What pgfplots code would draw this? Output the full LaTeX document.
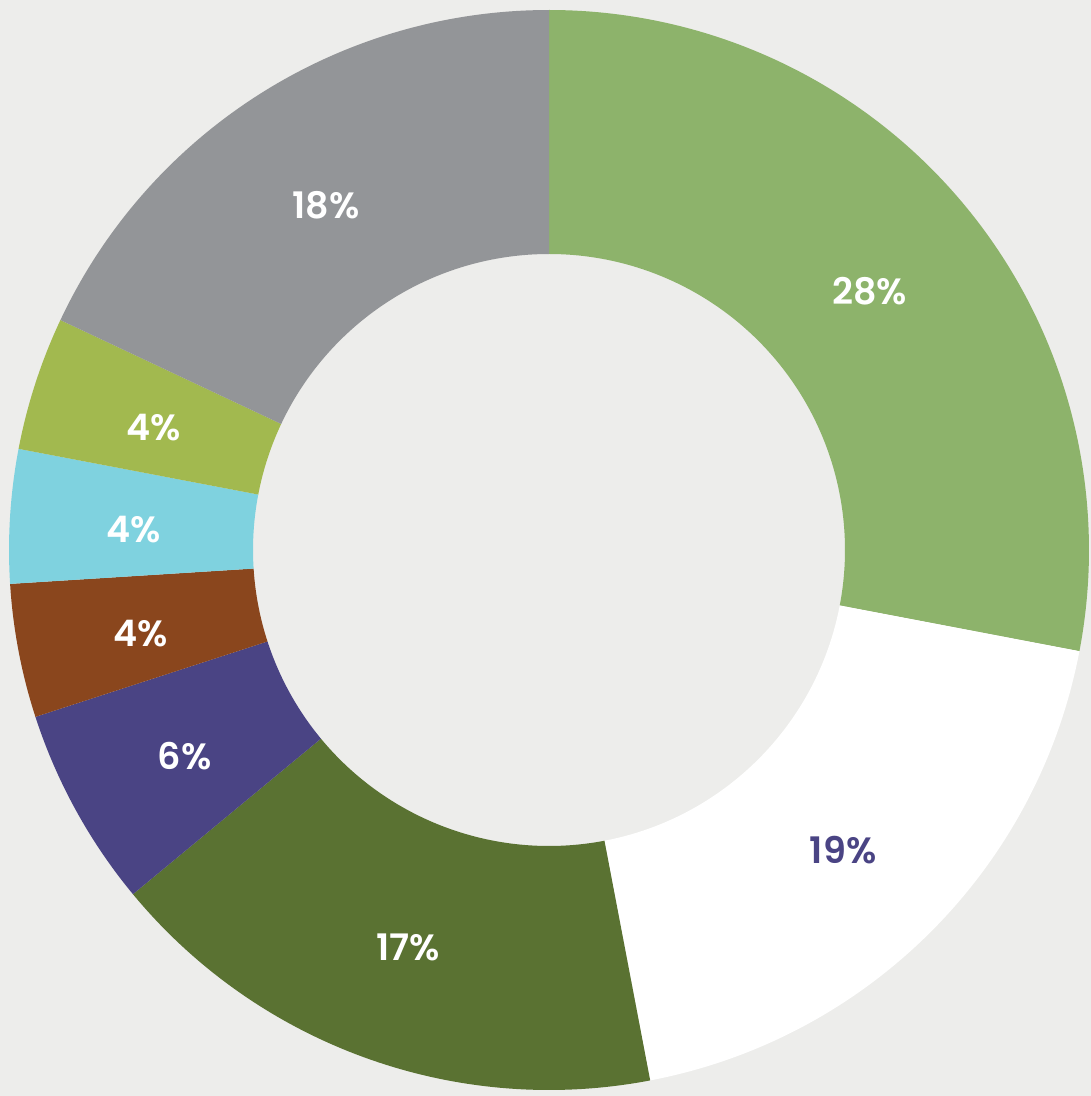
\documentclass[border=0pt]{standalone}
\usepackage{pgfplots}
\usepackage{pgfplotstable}
\pgfplotsset{compat=1.18}
\usetikzlibrary{calc}
\usepackage{fontspec}
\setmainfont{Poppins}[BoldFont={Poppins SemiBold}]

\definecolor{bgpaper}{HTML}{EDEDEB}
\definecolor{sgreen}{HTML}{8DB36B}
\definecolor{dgreen}{HTML}{5A7232}
\definecolor{spurple}{HTML}{4A4484}
\definecolor{brown}{HTML}{8A461D}
\definecolor{lblue}{HTML}{7FD2DF}
\definecolor{ygreen}{HTML}{A2B94F}
\definecolor{sgray}{HTML}{939598}

% share of each slice, clockwise from 12 o'clock
\pgfplotstableread{
pct fillc textc
28 sgreen white
19 white spurple
17 dgreen white
6 spurple white
4 brown white
4 lblue white
4 ygreen white
18 sgray white
}\donut

\def\Ro{5.40cm}
\def\Ri{2.96cm}
\def\Rm{4.16cm}

\begin{document}
\begin{tikzpicture}
\begin{axis}[
    width=10.91cm, height=10.96cm, scale only axis,
    xmin=0, xmax=1091, ymin=0, ymax=1096,
    hide axis, clip=true]
\addplot[fill=bgpaper, draw=none] coordinates {(0,0) (1091,0) (1091,1096) (0,1096)} \closedcycle;
\pgfplotsextra{
  \coordinate (C) at (axis cs:549,546);
  \gdef\cum{0}
  \foreach \i in {0,...,7}{
    \pgfplotstablegetelem{\i}{pct}\of\donut \let\p\pgfplotsretval
    \pgfplotstablegetelem{\i}{fillc}\of\donut \let\fc\pgfplotsretval
    \pgfplotstablegetelem{\i}{textc}\of\donut \let\tc\pgfplotsretval
    \pgfmathsetmacro\a{90-3.6*\cum}
    \pgfmathsetmacro\b{90-3.6*(\cum+\p)}
    \pgfmathsetmacro\m{(\a+\b)/2}
    \fill[\fc] ($(C)+(\a:\Ro)$) arc[start angle=\a, end angle=\b, radius=\Ro]
      -- ($(C)+(\b:\Ri)$) arc[start angle=\b, end angle=\a, radius=\Ri] -- cycle;
    \node[text=\tc, font=\fontsize{10.4}{12}\selectfont\bfseries] at ($(C)+(\m:\Rm)+(0,-0.06cm)$) {\p\%};
    \pgfmathsetmacro\newcum{\cum+\p}
    \xdef\cum{\newcum}
  }
}
\end{axis}
\end{tikzpicture}
\end{document}
